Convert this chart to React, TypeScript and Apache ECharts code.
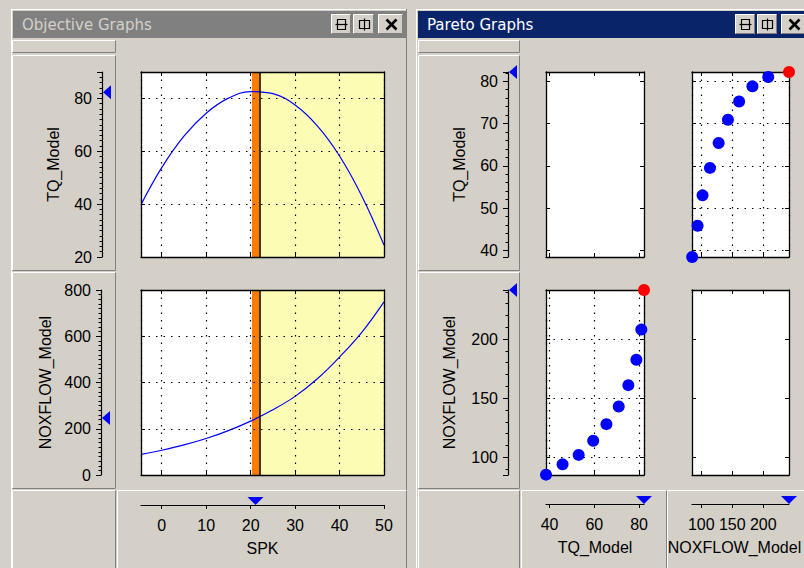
import React, { useEffect, useRef } from 'react';
import * as echarts from 'echarts';

// ---- data ----
const spk = [-4.66, 0, 5, 10, 15, 20, 25, 30, 35, 40, 45, 50];
const tqModel = [39.8, 53.8, 65.7, 74.4, 80.1, 82.6, 81.8, 77.5, 69.6, 58.2, 43.1, 24.5];
const noxModel = [89, 107, 130, 158, 192, 233, 282, 340, 416, 510, 617, 749];

const spkValue = 21.1;
const tqAtSpk = 82.3;
const noxAtSpk = 246;
const bandRange = [20.3, 22.0];
const shadedRange = [22.05, 50];

const paretoTQ = [38.4, 45.8, 53, 59.5, 65.4, 70.9, 75.2, 78.8, 81, 82.2];
const paretoNOX = [85.3, 94, 102, 114, 128, 143, 161, 182.5, 208, 241.5];
const selectedIndex = 9;

const spkRange = [-4.66, 50];
const tqRange = [20, 90];
const noxRange = [0, 800];
const paretoTQRange = [38.4, 82.2];
const paretoNOXRange = [85, 241.5];

const windowTitles = ['Objective Graphs', 'Pareto Graphs'];
const axisNames = { spk: 'SPK', tq: 'TQ_Model', nox: 'NOXFLOW_Model' };

const BG = '#d4d0c8';
const FONT = 'Liberation Sans';

function buildOption() {
  const els: any[] = [];
  let z2 = 0;
  const base = { z: -10, silent: true };
  const rect = (x: number, y: number, w: number, h: number, fill: string, stroke?: string, lw = 1) =>
    els.push({ type: 'rect', ...base, z2: z2++, shape: { x, y, width: w, height: h }, style: { fill, stroke: stroke || 'none', lineWidth: stroke ? lw : 0 } });
  const ln = (x1: number, y1: number, x2: number, y2: number, stroke: string, lineWidth = 1) =>
    els.push({ type: 'line', ...base, z2: z2++, shape: { x1, y1, x2, y2 }, style: { stroke, lineWidth } });
  const txt = (x: number, y: number, text: string, fill: string, fontSize: number, fontFamily: string) =>
    els.push({ type: 'text', ...base, z2: z2++, x, y, style: { text, fill, fontSize, fontFamily, verticalAlign: 'middle', align: 'left' } });
  const raised = (x: number, y: number, w: number, h: number) => {
    rect(x, y, w, h, BG);
    ln(x + 0.5, y + 0.5, x + w - 0.5, y + 0.5, '#ffffff');
    ln(x + 0.5, y + 0.5, x + 0.5, y + h - 0.5, '#ffffff');
    ln(x + 0.5, y + h - 0.5, x + w - 0.5, y + h - 0.5, '#808080');
    ln(x + w - 0.5, y + 0.5, x + w - 0.5, y + h - 0.5, '#808080');
  };
  const button = (x: number, y: number, w: number, h: number, kind: string) => {
    raised(x, y, w, h);
    const cx = Math.round(x + w / 2) + 0.5, cy = Math.round(y + h / 2) + 0.5;
    if (kind === 'h') {
      rect(cx - 4, cy - 5, 8, 10, 'none', '#000', 1.2);
      ln(cx - 6, cy, cx + 6, cy, '#000', 1.2);
    } else if (kind === 'v') {
      rect(cx - 5, cy - 4, 10, 8, 'none', '#000', 1.2);
      ln(cx, cy - 6, cx, cy + 6, '#000', 1.2);
    } else {
      ln(cx - 5, cy - 5, cx + 5, cy + 5, '#000', 2.6);
      ln(cx - 5, cy + 5, cx + 5, cy - 5, '#000', 2.6);
    }
  };

  // page
  rect(0, 0, 804, 568, BG);
  // left window frame
  ln(11, 9.5, 406, 9.5, '#ffffff');
  ln(11.5, 9, 11.5, 568, '#ffffff');
  ln(406.5, 9, 406.5, 568, '#808080');
  rect(13, 11, 393, 27, '#808080');
  txt(22, 24.5, windowTitles[0], '#d4d0c8', 15, 'DejaVu Sans');
  button(331, 14, 20, 20, 'h');
  button(353, 14, 21, 20, 'v');
  button(378, 14, 25, 20, 'x');
  // right window frame
  ln(416, 9.5, 804, 9.5, '#ffffff');
  ln(416.5, 9, 416.5, 568, '#ffffff');
  rect(418, 11, 386, 27, '#0a246a');
  txt(427, 24.5, windowTitles[1], '#ffffff', 15, 'DejaVu Sans');
  button(735, 14, 20, 20, 'h');
  button(757, 14, 20, 20, 'v');
  button(781, 14, 25, 20, 'x');
  // left window cells
  raised(12, 40, 104, 13);
  raised(12, 55, 104, 216);
  raised(12, 272, 104, 217);
  raised(12, 490, 104, 80);
  raised(117, 490, 290, 80);
  // right window cells
  raised(418, 40, 102, 13);
  raised(418, 55, 102, 216);
  raised(418, 272, 102, 217);
  raised(418, 490, 102, 80);
  raised(521, 490, 146, 80);
  raised(667, 490, 140, 80);

  const grids: any[] = [];
  const xAxes: any[] = [];
  const yAxes: any[] = [];
  const series: any[] = [];

  const addGrid = (left: number, top: number, width: number, height: number, plot: boolean) => {
    grids.push({ left, top, width, height, show: plot, backgroundColor: '#ffffff', borderWidth: 0, outerBoundsMode: 'none', containLabel: false });
    return grids.length - 1;
  };

  const splitStyle = { show: true, lineStyle: { color: '#000', type: [1.5, 6], width: 1.2 } };
  const boxLine = { show: true, onZero: false, lineStyle: { color: '#000', width: 1.3 } };
  const boxTick = { show: true, inside: true, length: 4, lineStyle: { color: '#000', width: 1 } };

  const addPlot = (g: number, xr: number[], yr: number[], xs: any, ys: any, split: boolean) => {
    const xi = xAxes.length;
    const yi = yAxes.length;
    for (const pos of ['bottom', 'top']) {
      xAxes.push({
        type: 'value', gridIndex: g, position: pos, min: xr[0], max: xr[1], ...xs, z: 5,
        axisLine: boxLine, axisTick: boxTick, axisLabel: { show: false },
        splitLine: pos === 'bottom' && split ? splitStyle : { show: false },
      });
    }
    for (const pos of ['left', 'right']) {
      yAxes.push({
        type: 'value', gridIndex: g, position: pos, min: yr[0], max: yr[1], ...ys, z: 5,
        axisLine: boxLine, axisTick: boxTick, axisLabel: { show: false },
        splitLine: pos === 'left' && split ? splitStyle : { show: false },
      });
    }
    return [xi, yi];
  };

  const labelStyle = { fontSize: 16, color: '#000', fontFamily: FONT };
  const nameStyle = { fontSize: 16, color: '#000', fontFamily: FONT };

  const addLeftAxis = (g: number, yr: number[], ys: any, showMin: boolean, showMax: boolean, name: string, nameGap: number, minorSplit: number) => {
    xAxes.push({ type: 'value', gridIndex: g, min: 0, max: 1, show: false });
    yAxes.push({
      type: 'value', gridIndex: g, position: 'left', min: yr[0], max: yr[1], ...ys,
      axisLine: { show: true, onZero: false, lineStyle: { color: '#000', width: 1.2 } },
      axisTick: { show: true, inside: false, length: 5, lineStyle: { color: '#000' } },
      minorTick: { show: true, splitNumber: minorSplit, length: 2.5, lineStyle: { color: '#000' } },
      axisLabel: { ...labelStyle, margin: 10, showMinLabel: showMin, showMaxLabel: showMax },
      splitLine: { show: false }, minorSplitLine: { show: false },
      name, nameLocation: 'middle', nameRotate: 90, nameGap, nameTextStyle: nameStyle, nameMoveOverlap: false,
    });
    return [xAxes.length - 1, yAxes.length - 1];
  };

  const addBottomAxis = (g: number, xr: number[], xs: any, showMax: boolean, name: string, namePad: number) => {
    yAxes.push({ type: 'value', gridIndex: g, min: 0, max: 1, show: false });
    xAxes.push({
      type: 'value', gridIndex: g, position: 'bottom', min: xr[0], max: xr[1], ...xs,
      axisLine: { show: true, onZero: false, lineStyle: { color: '#000', width: 1.2 } },
      axisTick: { show: true, inside: false, length: 4, lineStyle: { color: '#000' } },
      axisLabel: { ...labelStyle, margin: 12, showMinLabel: false, showMaxLabel: showMax },
      splitLine: { show: false },
      name, nameLocation: 'middle', nameGap: 35,
      nameTextStyle: { ...nameStyle, padding: [0, namePad, 0, 0] }, nameMoveOverlap: false,
    });
    return [xAxes.length - 1, yAxes.length - 1];
  };

  const triangle = (xi: number, yi: number, point: number[], rotate: number, size: number[], offset: number[]) => {
    series.push({
      type: 'scatter', xAxisIndex: xi, yAxisIndex: yi, data: [point], symbol: 'triangle',
      symbolSize: size, symbolRotate: rotate, symbolOffset: offset, clip: false, silent: true,
      itemStyle: { color: '#0000ff', opacity: 1 }, z: 6,
    });
  };

  // ---- Objective graphs ----
  const gObj1 = addGrid(141, 72, 243, 185, true);
  const gObj2 = addGrid(141, 290, 243, 185, true);
  const [ox1, oy1] = addPlot(gObj1, spkRange, tqRange, { splitNumber: 5 }, { interval: 20 }, true);
  const [ox2, oy2] = addPlot(gObj2, spkRange, noxRange, { splitNumber: 5 }, { interval: 200 }, true);

  const objSeries = (xi: number, yi: number, values: number[]) => {
    series.push({
      type: 'line', xAxisIndex: xi, yAxisIndex: yi, data: [], z: 1, silent: true,
      markArea: { silent: true, itemStyle: { color: '#fcfcb4', opacity: 1 }, data: [[{ xAxis: shadedRange[0] }, { xAxis: shadedRange[1] }]] },
    });
    series.push({
      type: 'line', xAxisIndex: xi, yAxisIndex: yi, z: 2, silent: true,
      data: spk.map((s, i) => [s, values[i]]), showSymbol: false, smooth: 0.4,
      lineStyle: { color: '#0000ff', width: 1.2, opacity: 1 },
    });
    series.push({
      type: 'line', xAxisIndex: xi, yAxisIndex: yi, data: [], z: 3, silent: true,
      markArea: { silent: true, itemStyle: { color: '#fb7d05', opacity: 1 }, data: [[{ xAxis: bandRange[0] }, { xAxis: bandRange[1] }]] },
      markLine: { silent: true, symbol: ['none', 'none'], label: { show: false }, lineStyle: { color: '#000', type: 'solid', width: 1.5, opacity: 1 }, data: [{ xAxis: shadedRange[0] }] },
    });
  };
  objSeries(ox1, oy1, tqModel);
  objSeries(ox2, oy2, noxModel);

  const gObjL1 = addGrid(102, 72, 10, 185, false);
  const gObjL2 = addGrid(101, 290, 10, 185, false);
  const gObjB = addGrid(141, 495, 243, 10, false);
  const [lx1, ly1] = addLeftAxis(gObjL1, tqRange, { interval: 20 }, true, false, axisNames.tq, 41, 10);
  const [lx2, ly2] = addLeftAxis(gObjL2, noxRange, { interval: 200 }, true, true, axisNames.nox, 48, 10);
  const [bx1, by1] = addBottomAxis(gObjB, spkRange, { splitNumber: 5 }, true, axisNames.spk, 0);
  triangle(lx1, ly1, [0, tqAtSpk], 90, [14, 8], [5, 0]);
  triangle(lx2, ly2, [0, noxAtSpk], 90, [14, 8], [5, 0]);
  triangle(bx1, by1, [spkValue, 0], 180, [16, 8], [0, -4]);

  // ---- Pareto graphs ----
  const gP11 = addGrid(546, 72, 98, 185, true);
  const gP12 = addGrid(692, 72, 97, 185, true);
  const gP21 = addGrid(546, 290, 98, 185, true);
  const gP22 = addGrid(692, 290, 97, 185, true);
  addPlot(gP11, paretoTQRange, paretoTQRange, { splitNumber: 2 }, { splitNumber: 5 }, false);
  const [px12, py12] = addPlot(gP12, paretoNOXRange, paretoTQRange, { splitNumber: 3 }, { splitNumber: 5 }, true);
  const [px21, py21] = addPlot(gP21, paretoTQRange, paretoNOXRange, { splitNumber: 2 }, { splitNumber: 3 }, true);
  addPlot(gP22, paretoNOXRange, paretoNOXRange, { splitNumber: 3 }, { splitNumber: 3 }, false);

  const paretoPoints = (xi: number, yi: number, xs: number[], ys: number[]) => {
    const pts = xs.map((v, i) => ({ value: [v, ys[i]], itemStyle: { color: i === selectedIndex ? '#ff0000' : '#0000ff', opacity: 1 } }));
    series.push({
      type: 'scatter', xAxisIndex: xi, yAxisIndex: yi, data: pts, symbol: 'circle', symbolSize: 12,
      itemStyle: { opacity: 1 }, clip: false, silent: true, z: 6,
    });
  };
  paretoPoints(px12, py12, paretoNOX, paretoTQ);
  paretoPoints(px21, py21, paretoTQ, paretoNOX);

  const gPL1 = addGrid(508, 72, 10, 185, false);
  const gPL2 = addGrid(508, 290, 10, 185, false);
  const gPB1 = addGrid(546, 494, 98, 10, false);
  const gPB2 = addGrid(692, 494, 97, 10, false);
  const [qx1, qy1] = addLeftAxis(gPL1, paretoTQRange, { splitNumber: 5 }, false, false, axisNames.tq, 41, 5);
  const [qx2, qy2] = addLeftAxis(gPL2, paretoNOXRange, { splitNumber: 3 }, false, false, axisNames.nox, 51, 5);
  const [rx1, ry1] = addBottomAxis(gPB1, paretoTQRange, { splitNumber: 2 }, false, axisNames.tq, 0);
  const [rx2, ry2] = addBottomAxis(gPB2, paretoNOXRange, { splitNumber: 3 }, false, axisNames.nox, 12);
  const selTQ = paretoTQ[selectedIndex];
  const selNOX = paretoNOX[selectedIndex];
  triangle(qx1, qy1, [0, selTQ], 90, [14, 8], [5, 0]);
  triangle(qx2, qy2, [0, selNOX], 90, [14, 8], [5, 0]);
  triangle(rx1, ry1, [selTQ, 0], 180, [16, 8], [0, -4]);
  triangle(rx2, ry2, [selNOX, 0], 180, [16, 8], [0, -4]);

  return {
    animation: false,
    backgroundColor: BG,
    textStyle: { fontFamily: FONT },
    graphic: { elements: els },
    grid: grids,
    xAxis: xAxes,
    yAxis: yAxes,
    series,
  };
}

export default function App() {
  const ref = useRef<HTMLDivElement>(null);
  useEffect(() => {
    if (!ref.current) return;
    const chart = echarts.init(ref.current, null, { renderer: 'svg' });
    chart.setOption(buildOption() as any);
    return () => chart.dispose();
  }, []);
  return <div ref={ref} style={{ position: 'absolute', left: 0, top: 0, width: 804, height: 568 }} />;
}
